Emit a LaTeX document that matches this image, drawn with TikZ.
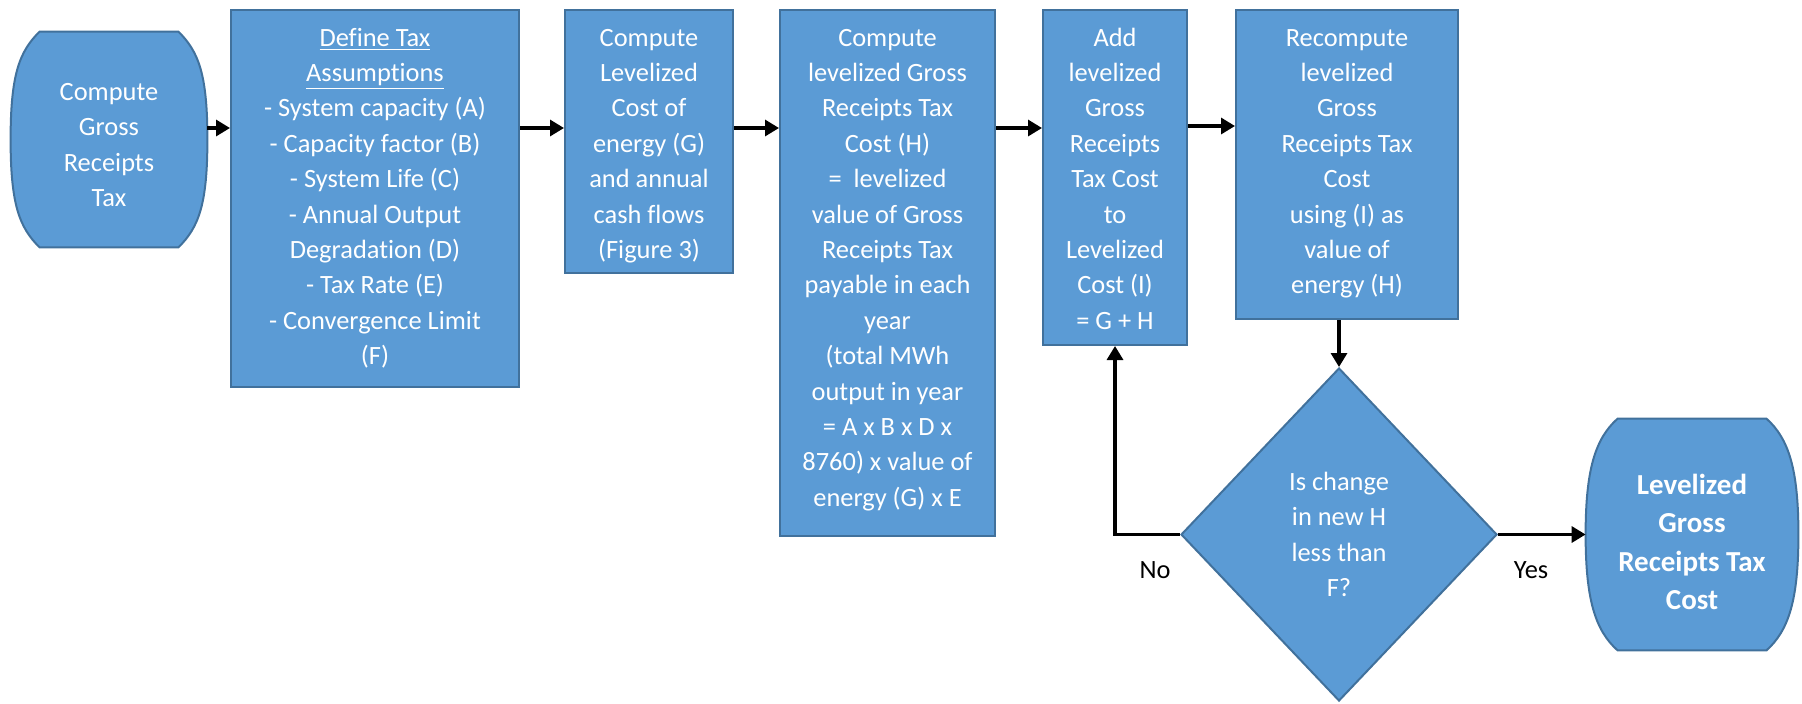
\documentclass[tikz,border=0pt]{standalone}
\usepackage{fontspec}
\setmainfont{Carlito}[Ligatures={NoCommon}]
\usetikzlibrary{arrows.meta,calc,shapes.geometric,backgrounds}
\definecolor{boxblue}{HTML}{5B9BD5}
\definecolor{boxline}{HTML}{41719C}
\newcommand\bx[3]{\parbox[c][#1][t]{#2}{\centering\rule{0pt}{18pt}#3}}
\newcommand\termpath[2]{%
  \draw[termline] ($(#1.north west)+(#2,0)$) -- ($(#1.north east)+(-#2,0)$)
    .. controls ($(#1.north east)+(-0.3*#2,20)$) and ($(#1.east)+(0,-65)$) .. (#1.east)
    .. controls ($(#1.east)+(0,65)$) and ($(#1.south east)+(-0.3*#2,-20)$) .. ($(#1.south east)+(-#2,0)$)
    -- ($(#1.south west)+(#2,0)$)
    .. controls ($(#1.south west)+(0.3*#2,-20)$) and ($(#1.west)+(0,65)$) .. (#1.west)
    .. controls ($(#1.west)+(0,-65)$) and ($(#1.north west)+(0.3*#2,20)$) .. cycle;}
\begin{document}
\begin{tikzpicture}[x=0.5pt,y=-0.5pt,
  txt/.style={font=\fontsize{13.2pt}{17.7pt}\selectfont},
  box/.style={txt, draw=boxline, fill=boxblue, line width=1pt, inner sep=0pt, anchor=north west, text=white},
  term/.style={txt, inner sep=0pt, text=white, align=center},
  termline/.style={draw=boxline, fill=boxblue, line width=1pt},
  decision/.style={txt, diamond, draw=boxline, fill=boxblue, line width=1pt, inner sep=0pt, text=white, align=center},
  arr/.style={line width=1.6pt, -{Triangle[length=7pt,width=8pt]}},
  lbl/.style={txt, text=black}]
\useasboundingbox (0,0) rectangle (1802,703);

\node[term, minimum width=98pt, minimum height=107.5pt] (t1) at (109,139.5) {};
\node[term, minimum width=106pt, minimum height=115.5pt] (t2) at (1692,534.5) {};

\node[term] (t1text) at (109,145) {Compute\\Gross\\Receipts\\Tax};

\node[box] (b2) at (230,9) {\bx{188.5pt}{144pt}{\underline{Define Tax}\\\underline{Assumptions}\\- System capacity (A)\\- Capacity factor (B)\\- System Life (C)\\- Annual Output\\Degradation (D)\\- Tax Rate (E)\\- Convergence Limit\\(F)}};

\node[box] (b3) at (564,9) {\bx{131.5pt}{84pt}{Compute\\Levelized\\Cost of\\energy (G)\\and annual\\cash flows\\(Figure 3)}};

\node[box] (b4) at (779,9) {\bx{263pt}{107.5pt}{Compute\\levelized Gross\\Receipts Tax\\Cost (H)\\=\ \ levelized\\value of Gross\\Receipts Tax\\payable in each\\year\\(total MWh\\output in year\\= A x B x D x\\8760) x value of\\energy (G) x E}};

\node[box] (b5) at (1042,9) {\bx{167.5pt}{72pt}{Add\\levelized\\Gross\\Receipts\\Tax Cost\\to\\Levelized\\Cost (I)\\= G + H}};

\node[box] (b6) at (1235,9) {\bx{154.5pt}{111pt}{Recompute\\levelized\\Gross\\Receipts Tax\\Cost\\using (I) as\\value of\\energy (H)}};

\node[decision, minimum width=158pt, minimum height=166.5pt] (dia) at (1339,534.5) {Is change\\in new H\\less than\\F?};

\begin{scope}[on background layer]
  \termpath{t1}{29}
  \termpath{t2}{32}
\end{scope}

\node[term, font=\fontsize{14.5pt}{19.3pt}\selectfont\bfseries] (t2text) at (1692,542) {Levelized\\Gross\\Receipts Tax\\Cost};

\coordinate (ay) at (0,128);
\coordinate (ay5) at (0,126);
\draw[arr] (t1.east |- ay) -- (b2.west |- ay);
\draw[arr] (b2.east |- ay) -- (b3.west |- ay);
\draw[arr] (b3.east |- ay) -- (b4.west |- ay);
\draw[arr] (b4.east |- ay) -- (b5.west |- ay);
\draw[arr] (b5.east |- ay5) -- (b6.west |- ay5);
\draw[arr] (b6.south -| dia.north) -- (dia.north);
\draw[arr] (dia.east) -- (t2.west);
\draw[arr] (dia.west) -| (b5.south);

\node[lbl] (no) at (1155,570) {No};
\node[lbl] (yes) at (1531,570) {Yes};
\end{tikzpicture}
\end{document}
